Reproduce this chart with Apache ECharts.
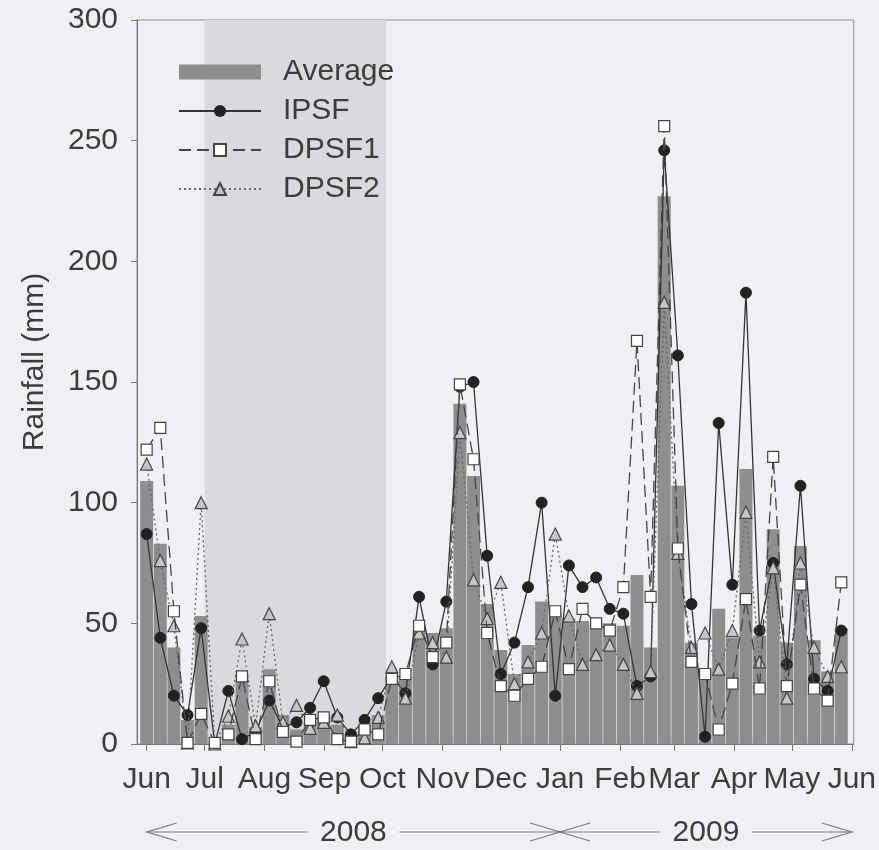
<!DOCTYPE html>
<html>
<head>
<meta charset="utf-8">
<title>Rainfall</title>
<script src="https://cdn.jsdelivr.net/npm/echarts@6.0.0/dist/echarts.min.js"></script>
<style>
  html, body { margin: 0; padding: 0; background: #eef0f3; }
  #main { width: 879px; height: 850px; }
</style>
</head>
<body>
<div id="main"></div>
<script>
// month ticks, days counted from 1 Jun 2008
const monthDays = [0, 30, 61, 92, 122, 153, 183, 214, 245, 273, 304, 334, 365]
const monthLabels = ['Jun', 'Jul', 'Aug', 'Sep', 'Oct', 'Nov', 'Dec', 'Jan', 'Feb', 'Mar', 'Apr', 'May', 'Jun']
const weekStep = 7.05

// weekly rainfall (mm)
const average = [109, 83, 40, 10, 53, 0, 8, 28, 7, 31, 12, 6, 9, 12, 8, 4, 8, 12, 28, 28, 47, 46, 48, 141, 111, 58,
  39, 29, 41, 59, 54, 52, 51, 50, 50, 49, 70, 40, 227, 107, 42, 31, 56, 44, 114, 45, 89, 42, 82, 43, 30, 48]
const ipsf = [87, 44, 20, 12, 48, 0, 22, 2, 5, 18, 7, 9, 15, 26, 11, 4, 10, 19, 28, 21, 61, 33, 59, 148, 150, 78,
  29, 42, 65, 100, 20, 74, 65, 69, 56, 54, 24, 28, 246, 161, 58, 3, 133, 66, 187, 47, 75, 33, 107, 27, 22, 47]
const dpsf1 = [122, 131, 55, 0.5, 12.5, 0.5, 4, 28, 2, 26, 5, 1, 10, 11, 2, 1, 6, 4, 27, 29, 49, 36, 42, 149, 118, 46,
  24, 20, 27, 32, 55, 31, 56, 50, 47, 65, 167, 61, 256, 81, 34, 29, 6, 25, 60, 23, 119, 24, 66, 23, 18, 67]
const dpsf2 = [116, 76, 49, 0.5, 100, 0, 11.5, 43.5, 7.5, 54, 9, 16, 6.5, 9, 12, 1, 2.5, 11, 32, 19, 46, 42, 36, 129, 68, 52,
  67, 25, 34, 46, 87, 53, 33, 37, 41, 33, 21, 30, 183, 79, 40, 46, 31, 47, 96, 34, 73, 19, 75, 40, 28, 32]

// shaded season (Jul - Oct) and the year spans
const shadeDays = [30, 124]
const years = [{ name: '2008', from: 0, to: 214 }, { name: '2009', from: 214, to: 365 }]

const font = 'Liberation Sans, Arial, sans-serif'
const textColor = '#3c3c3c'

function toPoints(arr) {
  return arr.map((v, i) => [i * weekStep, v])
}

const chart = echarts.init(document.getElementById('main'))

const option = {
  backgroundColor: '#eef0f3',
  animation: false,
  grid: {
    left: 137, right: 22, top: 20, bottom: 106,
    show: true, borderColor: '#8a8a8a', borderWidth: 1
  },
  legend: {
    orient: 'vertical',
    left: 173,
    top: 52,
    itemWidth: 82,
    itemHeight: 15,
    itemGap: 9,
    textStyle: { fontSize: 30, color: textColor, fontFamily: font, padding: [0, 0, 0, 17] },
    data: [
      { name: 'Average', icon: 'rect' },
      'IPSF', 'DPSF1', 'DPSF2'
    ]
  },
  xAxis: {
    type: 'value',
    min: -5,
    max: 366,
    axisLine: { lineStyle: { color: '#777', width: 1 } },
    axisTick: { show: true, customValues: monthDays, length: 7, lineStyle: { color: '#777' } },
    axisLabel: {
      customValues: monthDays,
      fontSize: 30, color: textColor, fontFamily: font, margin: 21,
      formatter: function (v) { return monthLabels[monthDays.indexOf(v)] }
    },
    splitLine: { show: false }
  },
  yAxis: {
    type: 'value',
    min: 0, max: 300, interval: 50,
    name: 'Rainfall (mm)',
    nameLocation: 'middle',
    nameGap: 87,
    nameTextStyle: { fontSize: 30, color: textColor, fontFamily: font, padding: [0, 0, 0, 40] },
    axisLine: { show: true, onZero: false, lineStyle: { color: '#777' } },
    axisTick: { show: true, length: 6, lineStyle: { color: '#777' } },
    axisLabel: { fontSize: 30, color: textColor, fontFamily: font, margin: 19 },
    splitLine: { show: false }
  },
  series: [
    {
      // light band behind everything
      name: 'shade', type: 'line', data: [], z: 1, silent: true,
      markArea: {
        silent: true,
        itemStyle: { color: '#d8dade' },
        data: [[{ xAxis: shadeDays[0] }, { xAxis: shadeDays[1] }]]
      }
    },
    {
      name: 'Average', type: 'bar', z: 2,
      data: toPoints(average),
      barWidth: 13,
      itemStyle: { color: '#8e8e8e' }
    },
    {
      name: 'IPSF', type: 'line', z: 3,
      data: toPoints(ipsf),
      symbol: 'circle', symbolSize: 11,
      itemStyle: { color: '#222', borderColor: '#222' },
      lineStyle: { color: '#333', width: 1.3, type: 'solid' }
    },
    {
      name: 'DPSF2', type: 'line', z: 4,
      data: toPoints(dpsf2),
      symbol: 'triangle', symbolSize: 12,
      itemStyle: { color: '#c4c6ca', borderColor: '#444', borderWidth: 1.2 },
      lineStyle: { color: '#666', width: 1.3, type: [2, 3] }
    },
    {
      name: 'DPSF1', type: 'line', z: 5,
      data: toPoints(dpsf1),
      symbol: 'rect', symbolSize: 11,
      itemStyle: { color: '#fff', borderColor: '#444', borderWidth: 1.2 },
      lineStyle: { color: '#444', width: 1.3, type: [12, 6] }
    }
  ]
}

chart.setOption(option)

// year arrows under the month labels
const yLine = 832
const graphics = []
years.forEach(function (yr) {
  const a = chart.convertToPixel({ xAxisIndex: 0 }, yr.from)
  const b = chart.convertToPixel({ xAxisIndex: 0 }, yr.to)
  const c = (a + b) / 2
  const ls = { stroke: '#7a7a7a', lineWidth: 1.2, fill: null }
  graphics.push({ type: 'line', shape: { x1: a, y1: yLine, x2: c - 46, y2: yLine }, style: ls })
  graphics.push({ type: 'line', shape: { x1: c + 46, y1: yLine, x2: b, y2: yLine }, style: ls })
  graphics.push({ type: 'polyline', shape: { points: [[a + 30, yLine - 9], [a, yLine], [a + 30, yLine + 9]] }, style: ls })
  graphics.push({ type: 'polyline', shape: { points: [[b - 30, yLine - 9], [b, yLine], [b - 30, yLine + 9]] }, style: ls })
  graphics.push({
    type: 'text', x: c, y: yLine + 1,
    style: { text: yr.name, fontSize: 30, fill: textColor, fontFamily: font, align: 'center', verticalAlign: 'middle' }
  })
})
chart.setOption({ graphic: graphics })
</script>
</body>
</html>
